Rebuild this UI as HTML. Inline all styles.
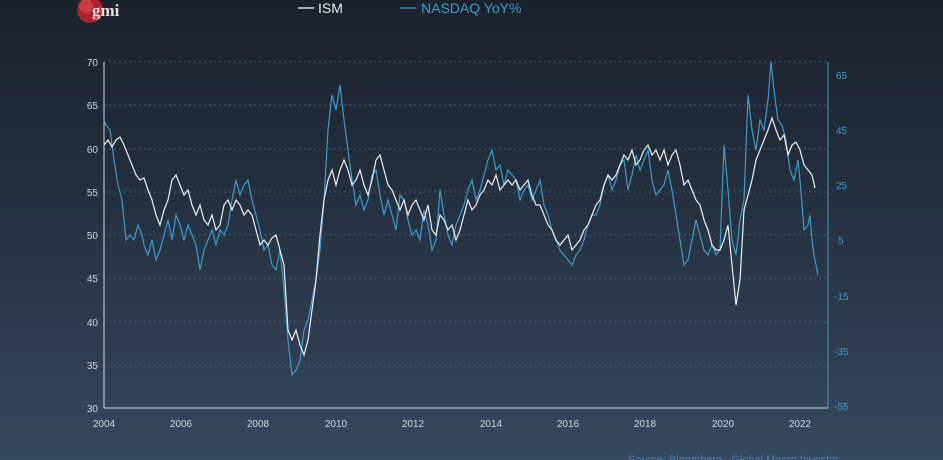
<!DOCTYPE html>
<html><head><meta charset="utf-8"><style>
html,body{margin:0;padding:0;width:943px;height:460px;overflow:hidden}
body{background:linear-gradient(180deg,#1b222c 0%,#222d3a 35%,#2c3b4d 70%,#35495f 100%);font-family:"Liberation Sans",sans-serif}
svg{display:block}
</style></head><body>
<svg width="943" height="460" xmlns="http://www.w3.org/2000/svg" font-family="Liberation Sans, sans-serif">
<circle cx="90" cy="10" r="13" fill="#b0202a"/>
<circle cx="86" cy="6" r="7" fill="#d85050" opacity="0.6"/>
<text x="92" y="16" font-family="Liberation Serif, serif" font-weight="bold" font-size="17" fill="#e8e0e0">gmi</text>
<line x1="298" y1="8" x2="314" y2="8" stroke="#fff" stroke-width="1.3"/>
<text x="318" y="13" font-size="14" fill="#e8e8e8">ISM</text>
<line x1="400" y1="8" x2="416" y2="8" stroke="#3a9ccf" stroke-width="1.3"/>
<text x="421" y="13" font-size="14" fill="#3a9ccf">NASDAQ YoY%</text>
<g stroke="#5a6f86" stroke-dasharray="2,3" stroke-width="0.8">
<line x1="104" y1="62" x2="828" y2="62"/><line x1="104" y1="105" x2="828" y2="105"/><line x1="104" y1="149" x2="828" y2="149"/><line x1="104" y1="192" x2="828" y2="192"/><line x1="104" y1="235" x2="828" y2="235"/><line x1="104" y1="278" x2="828" y2="278"/><line x1="104" y1="322" x2="828" y2="322"/><line x1="104" y1="365" x2="828" y2="365"/>
</g>
<line x1="104" y1="62" x2="104" y2="408" stroke="#d0d8e0" stroke-width="1"/>
<line x1="104" y1="408" x2="828" y2="408" stroke="#d0d8e0" stroke-width="1"/>
<line x1="828" y1="62" x2="828" y2="408" stroke="#3a9ccf" stroke-width="1"/>
<g font-size="10" fill="#d0d8e0" text-anchor="end">
<text x="98" y="66">70</text><text x="98" y="109">65</text><text x="98" y="153">60</text><text x="98" y="196">55</text><text x="98" y="239">50</text><text x="98" y="282">45</text><text x="98" y="326">40</text><text x="98" y="369">35</text><text x="98" y="412">30</text>
</g>
<g font-size="10" fill="#3a9ccf">
<text x="836" y="79">65</text><text x="836" y="134">45</text><text x="836" y="189">25</text><text x="838" y="244">5</text><text x="834" y="300">-15</text><text x="834" y="355">-35</text><text x="834" y="410">-55</text>
</g>
<g font-size="10" fill="#d0d8e0" text-anchor="middle">
<text x="104" y="427">2004</text><text x="181" y="427">2006</text><text x="258" y="427">2008</text><text x="336" y="427">2010</text><text x="413" y="427">2012</text><text x="491" y="427">2014</text><text x="568" y="427">2016</text><text x="645" y="427">2018</text><text x="723" y="427">2020</text><text x="800" y="427">2022</text>
</g>
<text x="628" y="463" font-size="11" fill="#4f7fa5">Source: Bloomberg , Global Macro Investor</text>
<polyline fill="none" stroke="#3a9ccf" stroke-width="1.2" points="104,120 106,125 110,130 114,160 118,185 122,200 126,240 130,235 134,240 138,225 142,235 144,245 148,255 152,240 156,260 160,250 164,235 168,220 172,240 176,215 180,225 184,240 188,225 192,235 196,245 200,270 204,250 208,240 212,230 216,245 220,230 224,235 228,225 232,200 236,180 240,195 244,185 248,180 252,200 256,215 260,230 264,250 268,245 272,265 276,270 280,250 284,290 288,340 292,375 296,370 300,360 304,330 308,320 312,300 316,280 320,250 324,200 328,130 332,95 336,110 340,85 344,120 348,150 352,180 356,205 360,195 364,210 368,200 372,175 376,170 380,195 384,215 388,200 392,215 396,230 400,195 404,200 408,220 412,235 416,230 420,240 424,210 428,225 432,250 436,240 440,190 444,215 448,235 452,245 456,225 460,215 464,205 468,190 472,180 476,200 480,190 484,175 488,160 492,150 496,170 500,165 504,185 508,170 512,175 516,180 520,200 524,190 528,185 532,200 536,190 540,180 544,205 548,215 552,230 556,240 560,250 564,255 568,260 572,265 576,255 580,250 584,240 588,225 592,215 596,215 600,205 604,185 608,175 612,190 616,180 620,165 624,160 628,190 632,175 636,155 640,170 644,160 648,150 652,180 656,195 660,190 664,185 668,170 672,190 676,215 680,240 684,265 688,260 692,240 696,220 700,235 704,250 708,255 712,245 716,255 720,250 724,145 728,190 732,240 736,255 740,220 744,200 748,95 752,130 756,150 760,120 764,130 768,100 771,62 774,90 778,120 782,125 786,140 790,170 794,180 798,160 800,180 804,230 808,225 810,215 812,240 814,255 818,275"/>
<polyline fill="none" stroke="#f0f0f0" stroke-width="1.2" points="104,145 108,140 112,147 116,140 120,137 124,145 128,155 132,165 136,175 140,180 144,178 148,190 152,200 156,215 160,225 164,210 168,200 172,180 176,175 180,185 184,195 188,190 192,205 196,215 200,205 204,220 208,225 212,215 216,230 220,225 224,205 228,200 232,210 236,200 240,205 244,215 248,210 252,215 256,230 260,245 264,240 268,245 272,238 276,235 280,250 284,265 288,330 292,340 296,330 300,345 304,355 308,340 312,310 316,280 320,235 324,200 328,180 332,170 336,185 340,170 344,160 348,170 352,185 356,180 360,170 364,185 368,195 372,180 376,160 380,155 384,170 388,185 392,190 396,200 400,210 404,200 408,215 412,205 416,200 420,210 424,220 428,205 432,230 436,235 440,215 444,220 448,230 452,225 456,240 460,230 464,215 468,200 472,210 476,205 480,195 484,190 488,180 492,185 496,175 500,190 504,185 508,180 512,185 516,180 520,190 524,185 528,180 532,195 536,205 540,205 544,215 548,225 552,230 556,240 560,245 564,240 568,235 572,250 576,245 580,240 584,230 588,225 592,215 596,205 600,200 604,185 608,175 612,180 616,175 620,165 624,155 628,160 632,150 636,165 640,160 644,150 648,145 652,155 656,150 660,160 664,150 668,165 672,155 676,150 680,165 684,185 688,180 692,190 696,200 700,205 704,220 708,230 712,245 716,250 720,250 724,240 728,225 732,265 736,305 740,280 744,210 748,195 752,180 756,160 760,150 764,140 768,130 772,118 776,130 780,140 784,135 788,155 792,145 796,142 800,150 804,165 808,170 812,175 815,188"/>
</svg>
</body></html>
